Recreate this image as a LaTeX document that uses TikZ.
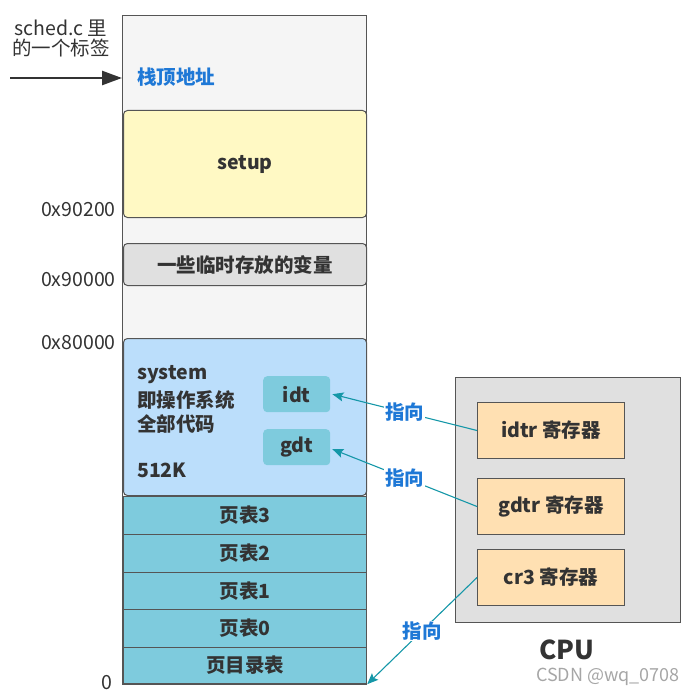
\documentclass[tikz,border=0pt]{standalone}
\usepackage{fontspec}
\setmainfont{Noto Sans CJK SC}
\usetikzlibrary{arrows.meta}
\definecolor{txt}{HTML}{333333}
\definecolor{edge}{HTML}{555555}
\definecolor{colbg}{HTML}{F5F5F5}
\definecolor{setupc}{HTML}{FFF9C4}
\definecolor{tempc}{HTML}{E0E0E0}
\definecolor{sysc}{HTML}{BBDEFB}
\definecolor{ptc}{HTML}{7ECBDD}
\definecolor{cpuc}{HTML}{E0E0E0}
\definecolor{regc}{HTML}{FFE0B2}
\definecolor{bluetxt}{HTML}{1E78D6}
\definecolor{teal}{HTML}{1597A8}
\tikzset{
  lbl/.style={font=\fontsize{19.5}{23}\selectfont, text=txt},
  blbl/.style={font=\fontsize{19.5}{23}\selectfont\bfseries, text=txt},
  addr/.style={lbl, anchor=east, inner sep=0pt},
  membox/.style={draw=edge, line width=1pt, rounded corners=4pt, inner sep=0pt},
  ptbox/.style={draw=edge, line width=1.2pt, fill=ptc, inner sep=0pt},
  regbox/.style={draw=edge, line width=1pt, fill=regc, inner sep=0pt},
  tagbox/.style={fill=ptc, rounded corners=4pt, inner sep=0pt},
  ptr/.style={draw=teal, line width=1.1pt, -{Stealth[length=11pt,width=9pt,inset=2pt]}},
  ptrlbl/.style={font=\fontsize{19.5}{23}\selectfont\bfseries, text=bluetxt, fill=white, inner sep=1pt},
}
\begin{document}
\begin{tikzpicture}[x=1pt,y=-1pt]
\useasboundingbox (0,0) rectangle (694,698);
% main column
\node[draw=edge, line width=1.2pt, fill=colbg, minimum width=244pt, minimum height=669pt, inner sep=0pt, anchor=north west] (outer) at (122,15) {};
\node[membox, fill=setupc, minimum width=243pt, minimum height=107pt, anchor=north west] (setup) at (123,110) {};
\node[blbl] at (setup.center) {setup};
\node[membox, fill=tempc, minimum width=243pt, minimum height=42pt, anchor=north west] (temp) at (123,243) {};
\node[blbl] at (temp.center) {一些临时存放的变量};
\node[membox, fill=sysc, minimum width=243pt, minimum height=157pt, anchor=north west] (system) at (123,338) {};
\node[blbl, anchor=west, inner sep=0pt] (sys1) at (137,375) {system};
\node[blbl, anchor=west, inner sep=0pt] (sys2) at (137,400) {即操作系统};
\node[blbl, anchor=west, inner sep=0pt] (sys3) at (137,424) {全部代码};
\node[blbl, anchor=west, inner sep=0pt] (sys4) at (137,470) {512K};
\node[tagbox, minimum width=67pt, minimum height=36pt, anchor=north west] (idt) at (263,376) {};
\node[blbl] at (idt.center) {idt};
\node[tagbox, minimum width=67pt, minimum height=36pt, anchor=north west] (gdt) at (263,429) {};
\node[blbl] at (gdt.center) {gdt};
% page tables
\node[ptbox, minimum width=243pt, minimum height=38pt, anchor=north west] (pt3) at (123,496) {};
\node[blbl] at (pt3.center) {页表3};
\node[ptbox, minimum width=243pt, minimum height=38pt, anchor=north west] (pt2) at (123,534) {};
\node[blbl] at (pt2.center) {页表2};
\node[ptbox, minimum width=243pt, minimum height=37pt, anchor=north west] (pt1) at (123,572) {};
\node[blbl] at (pt1.center) {页表1};
\node[ptbox, minimum width=243pt, minimum height=38pt, anchor=north west] (pt0) at (123,609) {};
\node[blbl] at (pt0.center) {页表0};
\node[ptbox, minimum width=243pt, minimum height=36pt, anchor=north west] (pd) at (123,647) {};
\node[blbl] at (pd.center) {页目录表};
% stack top label and tag
\node[font=\fontsize{19.5}{23}\selectfont\bfseries, text=bluetxt, anchor=west, inner sep=0pt] (stacktop) at (137,77) {栈顶地址};
\node[lbl, align=center, inner sep=0pt] (sched) at (61,38) {sched.c 里\\[-3pt]的一个标签};
\coordinate (tagstart) at (10,78);
\coordinate (tagend) at (122,78);
\draw[draw=txt, line width=2.6pt, -{Triangle[length=20pt,width=14pt]}] (tagstart) -- (tagend);
% addresses
\node[addr] (a1) at (116,210) {0x90200};
\node[addr] (a2) at (116,280) {0x90000};
\node[addr] (a3) at (116,343) {0x80000};
\node[addr] (a4) at (113,683) {0};
% CPU
\node[draw=edge, line width=1.2pt, fill=cpuc, minimum width=225pt, minimum height=245pt, inner sep=0pt, anchor=north west] (cpu) at (455,377) {};
\node[regbox, minimum width=147pt, minimum height=56pt, anchor=north west] (idtr) at (477,402) {};
\node[blbl] at (idtr.center) {idtr 寄存器};
\node[regbox, minimum width=147pt, minimum height=56pt, anchor=north west] (gdtr) at (477,478) {};
\node[blbl] at (gdtr.center) {gdtr 寄存器};
\node[regbox, minimum width=147pt, minimum height=56pt, anchor=north west] (cr3) at (477,549) {};
\node[blbl] at (cr3.center) {cr3 寄存器};
\node[font=\fontsize{26}{30}\selectfont\bfseries, text=txt] (cpulbl) at (567,650) {CPU};
% pointers
\draw[ptr] (idtr.west) -- node[ptrlbl, pos=0.5] {指向} ([xshift=2pt]idt.east);
\draw[ptr] (gdtr.west) -- node[ptrlbl, pos=0.5] {指向} ([xshift=2pt,yshift=-2pt]gdt.east);
\draw[ptr] (cr3.west) -- node[ptrlbl, pos=0.5] {指向} (pd.south east);
% watermark
\node[font=\fontsize{18}{22}\selectfont, text=black!35, anchor=east, inner sep=0pt] (wm) at (680,677) {CSDN @wq\_0708};
\end{tikzpicture}
\end{document}
